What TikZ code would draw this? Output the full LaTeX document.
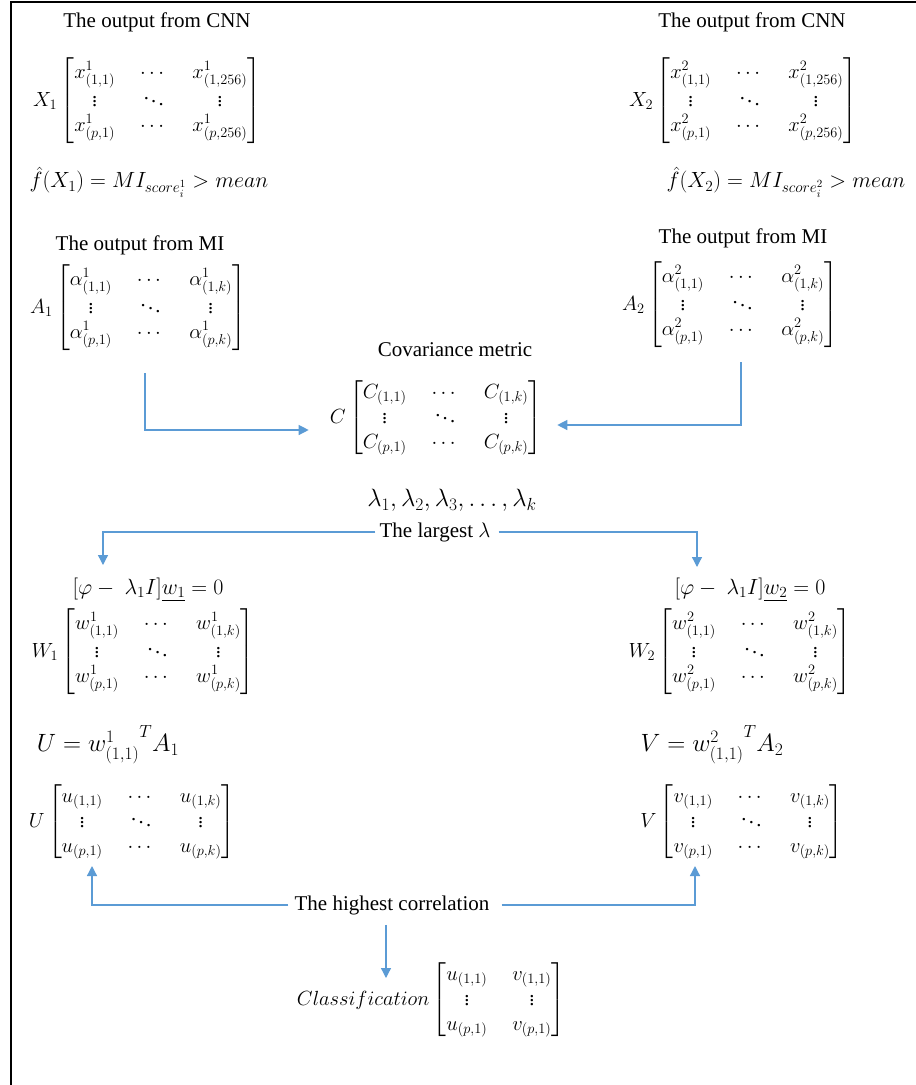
\RequirePackage{fix-cm}
\documentclass[tikz,border=0pt]{standalone}
\usepackage{amsmath,amssymb}
\usepackage{fontspec}
\setmainfont{Liberation Serif}
\usetikzlibrary{positioning, arrows.meta, calc}
\definecolor{flowblue}{RGB}{91,155,213}
\newcommand{\threemat}[4]{\begin{bmatrix} #1 & \cdots & #2\\ \vdots & \ddots & \vdots\\ #3 & \cdots & #4\end{bmatrix}}
\tikzset{
  flow/.style={draw=flowblue, line width=1.3pt, -{Triangle[length=10pt,width=10pt]}},
  caption/.style={font=\fontsize{21}{25}\selectfont, inner sep=2pt},
  mat/.style={font=\fontsize{20.5}{25}\selectfont, inner sep=1pt},
  eqline/.style={font=\fontsize{22}{26}\selectfont, inner sep=1pt},
  bigeq/.style={font=\fontsize{25}{30}\selectfont, inner sep=1pt},
}

\begin{document}
\begin{tikzpicture}[x=1pt, y=-1pt, >=stealth]
    \useasboundingbox (0,0) rectangle (916,1085);
    \setlength{\arraycolsep}{12.5pt}
    % --- FRAME ---
    \draw[line width=1.6pt] (11,1085) -- (11,2) -- (916,2);

    % --- CNN OUTPUTS ---
    \node[caption] (cnnL) at (157,22) {The output from CNN};
    \node[mat] (X1) at (147,101) {$X_1\threemat{x^1_{(1,1)}}{x^1_{(1,256)}}{x^1_{(p,1)}}{x^1_{(p,256)}}$};
    \node[eqline] (fX1) at (149,182) {$\hat f(X_1)=MI_{score_i^1}>mean$};

    \node[caption] (cnnR) at (752,22) {The output from CNN};
    \node[mat] (X2) at (743,101) {$X_2\threemat{x^2_{(1,1)}}{x^2_{(1,256)}}{x^2_{(p,1)}}{x^2_{(p,256)}}$};
    \node[eqline] (fX2) at (786,182) {$\hat f(X_2)=MI_{score_i^2}>mean$};

    % --- MI OUTPUTS ---
    \node[caption] (miL) at (140,245) {The output from MI};
    \node[mat] (A1) at (138,308) {$A_1\threemat{\alpha^1_{(1,1)}}{\alpha^1_{(1,k)}}{\alpha^1_{(p,1)}}{\alpha^1_{(p,k)}}$};
    \node[caption] (miR) at (743,238) {The output from MI};
    \node[mat] (A2) at (730,305) {$A_2\threemat{\alpha^2_{(1,1)}}{\alpha^2_{(1,k)}}{\alpha^2_{(p,1)}}{\alpha^2_{(p,k)}}$};

    % --- COVARIANCE ---
    \node[caption] (covT) at (455,350) {Covariance metric};
    \node[mat] (Cm) at (436,418) {$C\threemat{C_{(1,1)}}{C_{(1,k)}}{C_{(p,1)}}{C_{(p,k)}}$};
    \node[bigeq] (eig) at (452,500) {$\lambda_1,\lambda_2,\lambda_3,\dots,\lambda_k$};
    \node[caption] (lam) at (435,532) {The largest $\lambda$};

    % --- EIGENVECTORS ---
    \node[eqline] (W1eq) at (148,590) {$[\varphi-\ \lambda_1 I]\underline{w_1}=0$};
    \node[mat] (W1) at (143,652) {$W_1\threemat{w^1_{(1,1)}}{w^1_{(1,k)}}{w^1_{(p,1)}}{w^1_{(p,k)}}$};
    \node[eqline] (W2eq) at (750,590) {$[\varphi-\ \lambda_1 I]\underline{w_2}=0$};
    \node[mat] (W2) at (740,652) {$W_2\threemat{w^2_{(1,1)}}{w^2_{(1,k)}}{w^2_{(p,1)}}{w^2_{(p,k)}}$};

    % --- PROJECTIONS ---
    \node[bigeq] (Ueq) at (108,745) {$U={w^1_{(1,1)}}^T A_1$};
    \node[mat] (Um) at (132,822) {$U\threemat{u_{(1,1)}}{u_{(1,k)}}{u_{(p,1)}}{u_{(p,k)}}$};
    \node[bigeq] (Veq) at (712,745) {$V={w^2_{(1,1)}}^T A_2$};
    \node[mat] (Vm) at (742,822) {$V\threemat{v_{(1,1)}}{v_{(1,k)}}{v_{(p,1)}}{v_{(p,k)}}$};

    % --- CORRELATION ---
    \node[caption] (corr) at (392,905) {The highest correlation};
    \node[mat] (cls) at (431,1000) {$Classification\begin{bmatrix} u_{(1,1)} & v_{(1,1)}\\ \vdots & \vdots\\ u_{(p,1)} & v_{(p,1)}\end{bmatrix}$};

    % Arrow ends
    \coordinate (a1out) at (145,373);
    \coordinate (a2out) at (741,362);
    \coordinate (w1in) at (103,565);
    \coordinate (w2in) at (697,567);
    \coordinate (uin) at (92,866);
    \coordinate (vin) at (695,866);
    \coordinate (clsin) at (386,978);

    % Connectors
    \draw[flow] (a1out) |- ([xshift=-20pt,yshift=-12pt]Cm.west);
    \draw[flow] (a2out) |- ([xshift=14pt,yshift=-7pt]Cm.east);
    \draw[flow] ([xshift=-2pt]lam.west) -| (w1in);
    \draw[flow] ([xshift=6pt]lam.east) -| (w2in);
    \draw[flow] ([xshift=-4pt]corr.west) -| (uin);
    \draw[flow] ([xshift=10pt]corr.east) -| (vin);
    \draw[flow] ([yshift=-8pt]corr.south -| clsin) -- (clsin);
\end{tikzpicture}
\end{document}
